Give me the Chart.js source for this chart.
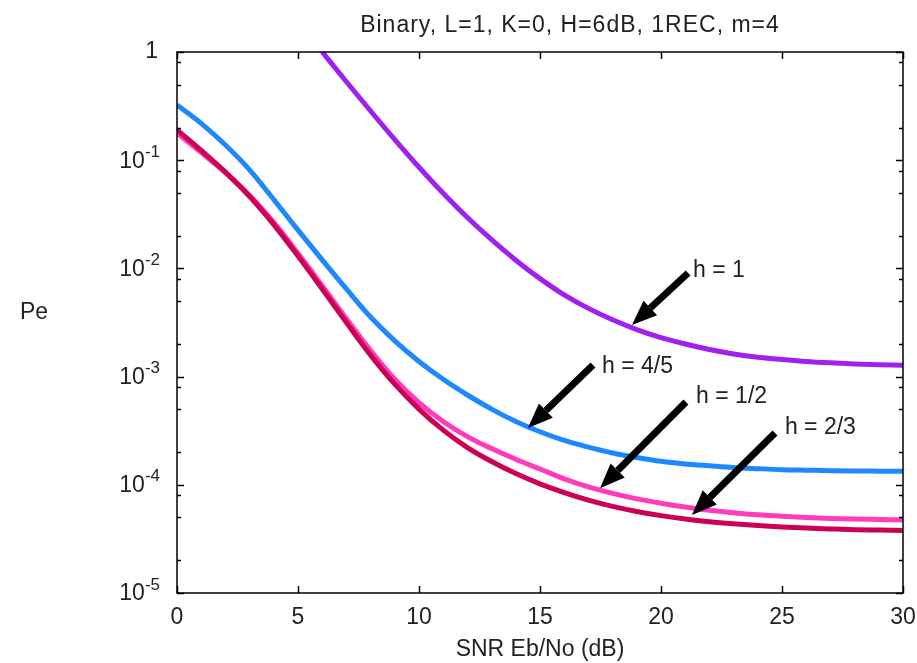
<!DOCTYPE html>
<html>
<head>
<meta charset="utf-8">
<script src="https://cdn.jsdelivr.net/npm/chart.js@4"></script>
<style>
    html, body { margin: 0; padding: 0; background: #fff; }
    #wrap { width: 917px; height: 663px; }
</style>
</head>
<body>
<div id="wrap"><canvas id="myChart" width="917" height="663"></canvas></div>
<script>
// SNR Eb/No (dB)
const snr = [0, 1, 2, 3, 4, 5, 6, 7, 8, 9, 10, 11, 12, 13, 14, 15, 16, 17, 18, 19, 20, 21, 22, 23, 24, 25, 26, 27, 28, 29, 30];

// Pe per curve, null where the curve is off the plot
const peH1 = [null, null, null, null, null, null, 1.0, 0.531, 0.285, 0.155, 0.0861, 0.0495, 0.0295, 0.0184, 0.0119, 0.00804,
    0.00569, 0.00427, 0.00335, 0.00272, 0.00229, 0.00200, 0.00178, 0.00162, 0.00151, 0.00144, 0.00138, 0.00134, 0.00131, 0.00129, 0.00127];
const peH45 = [0.324, 0.219, 0.138, 0.0813, 0.0432, 0.0226, 0.0120, 0.00646, 0.00355, 0.00214, 0.00138, 0.000944, 0.000676, 0.000501, 0.000385, 0.000309,
    0.000257, 0.000223, 0.000197, 0.000179, 0.000165, 0.000156, 0.000150, 0.0001445, 0.000141, 0.000138, 0.0001365, 0.000135, 0.000134, 0.0001337, 0.0001333];
const peH12 = [0.178, 0.1175, 0.0767, 0.0473, 0.0266, 0.0138, 0.00692, 0.00343, 0.00174, 0.000944, 0.000575, 0.000385, 0.000279, 0.000216, 0.000172, 0.000140,
    0.0001135, 0.0000955, 0.0000832, 0.0000741, 0.0000676, 0.0000624, 0.0000582, 0.0000552, 0.0000528, 0.0000511, 0.0000498, 0.0000489, 0.0000482, 0.0000478, 0.0000474];
const peH23 = [0.191, 0.123, 0.0776, 0.0462, 0.0254, 0.0130, 0.00646, 0.00316, 0.00158, 0.000851, 0.000501, 0.000320, 0.000221, 0.000164, 0.000127, 0.000102,
    0.0000847, 0.0000721, 0.0000631, 0.0000566, 0.0000519, 0.0000483, 0.0000456, 0.0000436, 0.0000420, 0.0000407, 0.0000398, 0.0000391, 0.0000385, 0.0000382, 0.0000379];

// y axis
const yMajor = [1, 1e-1, 1e-2, 1e-3, 1e-4, 1e-5];
const yMajorExp = ['', '-1', '-2', '-3', '-4', '-5'];
const yMinorMant = [2, 5, 8];
const xMajor = [0, 5, 10, 15, 20, 25, 30];

// annotations: label, text anchor (x, Pe), arrow tail, arrow head
const noteText = ['h = 1', 'h = 4/5', 'h = 1/2', 'h = 2/3'];
const noteAt = [[21.32, 9.6e-3], [17.56, 1.23e-3], [21.45, 6.48e-4], [25.12, 3.35e-4]];
const noteTail = [[21.12, 9.06e-3], [17.19, 1.28e-3], [21.03, 5.82e-4], [24.71, 3.01e-4]];
const noteHead = [[18.80, 3.0e-3], [14.50, 3.35e-4], [17.48, 9.3e-5], [21.28, 5.26e-5]];

const FONT = "'Liberation Sans', Arial, sans-serif";

function pts(vals) {
    const out = [];
    vals.forEach((v, i) => { if (v !== null) out.push({ x: snr[i], y: v }); });
    return out;
}

const data = {
    datasets: [
        { label: 'h = 2/3', data: pts(peH23), borderColor: 'rgb(204, 0, 84)' },
        { label: 'h = 1/2', data: pts(peH12), borderColor: 'rgb(255, 60, 190)' },
        { label: 'h = 4/5', data: pts(peH45), borderColor: 'rgb(30, 136, 255)' },
        { label: 'h = 1', data: pts(peH1), borderColor: 'rgb(160, 32, 240)' },
    ]
};

// frame, inward ticks, y labels, title, Pe, arrows
const decor = {
    id: 'decor',
    afterDatasetsDraw(chart) {
        const ctx = chart.ctx;
        const a = chart.chartArea;
        const xs = chart.scales.x, ys = chart.scales.y;
        ctx.save();
        ctx.strokeStyle = '#000';
        ctx.lineWidth = 1.5;
        ctx.strokeRect(a.left, a.top, a.right - a.left, a.bottom - a.top);

        ctx.beginPath();
        xMajor.forEach(v => {
            const px = Math.round(xs.getPixelForValue(v)) + 0.5;
            ctx.moveTo(px, a.bottom); ctx.lineTo(px, a.bottom - 7);
            ctx.moveTo(px, a.top); ctx.lineTo(px, a.top + 7);
        });
        yMajor.forEach(v => {
            const py = Math.round(ys.getPixelForValue(v)) + 0.5;
            ctx.moveTo(a.left, py); ctx.lineTo(a.left + 7, py);
            ctx.moveTo(a.right, py); ctx.lineTo(a.right - 7, py);
        });
        yMajor.slice(1).forEach(d => {
            yMinorMant.forEach(m => {
                const py = Math.round(ys.getPixelForValue(d * m)) + 0.5;
                ctx.moveTo(a.left, py); ctx.lineTo(a.left + 4, py);
                ctx.moveTo(a.right, py); ctx.lineTo(a.right - 4, py);
            });
        });
        ctx.stroke();

        // y tick labels with superscript exponent
        ctx.fillStyle = '#222';
        ctx.textBaseline = 'middle';
        ctx.textAlign = 'right';
        yMajor.forEach((v, i) => {
            const py = ys.getPixelForValue(v);
            const right = a.left - 17;
            if (yMajorExp[i] === '') {
                ctx.font = '23px ' + FONT;
                ctx.fillText('1', right - 2, py);
                return;
            }
            ctx.font = '17px ' + FONT;
            ctx.fillText(yMajorExp[i], right, py - 8);
            const ew = ctx.measureText(yMajorExp[i]).width;
            ctx.font = '23px ' + FONT;
            ctx.fillText('10', right - ew, py + 1);
        });

        // title and Pe
        ctx.font = '23px ' + FONT;
        ctx.textAlign = 'center';
        ctx.letterSpacing = '1px';
        ctx.fillText('Binary, L=1, K=0, H=6dB, 1REC, m=4', (a.left + a.right) / 2 + 30, 26);
        ctx.letterSpacing = '0px';
        ctx.textAlign = 'left';
        ctx.fillText('Pe', 20, 313);

        // arrows
        noteText.forEach((t, i) => {
            const tx = xs.getPixelForValue(noteTail[i][0]), ty = ys.getPixelForValue(noteTail[i][1]);
            const hx = xs.getPixelForValue(noteHead[i][0]), hy = ys.getPixelForValue(noteHead[i][1]);
            const ang = Math.atan2(hy - ty, hx - tx);
            const len = 25, half = 10;
            const bx = hx - len * Math.cos(ang), by = hy - len * Math.sin(ang);
            ctx.fillStyle = '#000';
            ctx.strokeStyle = '#000';
            ctx.lineWidth = 7;
            ctx.lineCap = 'butt';
            ctx.beginPath();
            ctx.moveTo(tx, ty); ctx.lineTo(bx, by);
            ctx.stroke();
            ctx.beginPath();
            ctx.moveTo(hx, hy);
            ctx.lineTo(bx + half * Math.sin(ang), by - half * Math.cos(ang));
            ctx.lineTo(bx - half * Math.sin(ang), by + half * Math.cos(ang));
            ctx.closePath();
            ctx.fill();

            ctx.fillStyle = '#222';
            ctx.font = '23px ' + FONT;
            ctx.textAlign = 'left';
            ctx.textBaseline = 'middle';
            ctx.fillText(t, xs.getPixelForValue(noteAt[i][0]), ys.getPixelForValue(noteAt[i][1]));
        });
        ctx.restore();
    }
};

Chart.defaults.font.family = FONT;
Chart.defaults.color = '#222';

const config = {
    type: 'line',
    data: data,
    options: {
        responsive: false,
        animation: false,
        layout: {
            padding: { top: 52, right: 14, left: 0, bottom: 0 }
        },
        elements: {
            point: { radius: 0 },
            line: { borderWidth: 5, cubicInterpolationMode: 'monotone', fill: false }
        },
        plugins: {
            legend: { display: false },
            title: { display: false },
            tooltip: { enabled: false }
        },
        scales: {
            x: {
                type: 'linear',
                min: 0,
                max: 30,
                afterFit: s => { s.height = 70; s.paddingLeft = 0; s.paddingRight = 0; },
                afterBuildTicks: s => { s.ticks = xMajor.map(v => ({ value: v })); },
                grid: { display: false, drawTicks: false },
                border: { display: false },
                ticks: {
                    font: { size: 23 },
                    padding: 11,
                    maxRotation: 0
                },
                title: {
                    display: true,
                    text: 'SNR Eb/No (dB)',
                    font: { size: 23 },
                    padding: { top: 0, bottom: 0 }
                }
            },
            y: {
                type: 'logarithmic',
                min: 1e-5,
                max: 1,
                afterFit: s => { s.width = 177; },
                grid: { display: false, drawTicks: false },
                border: { display: false },
                ticks: { display: false }
            }
        }
    },
    plugins: [decor]
};

const myChart = new Chart(
    document.getElementById('myChart'),
    config
);
</script>
</body>
</html>
